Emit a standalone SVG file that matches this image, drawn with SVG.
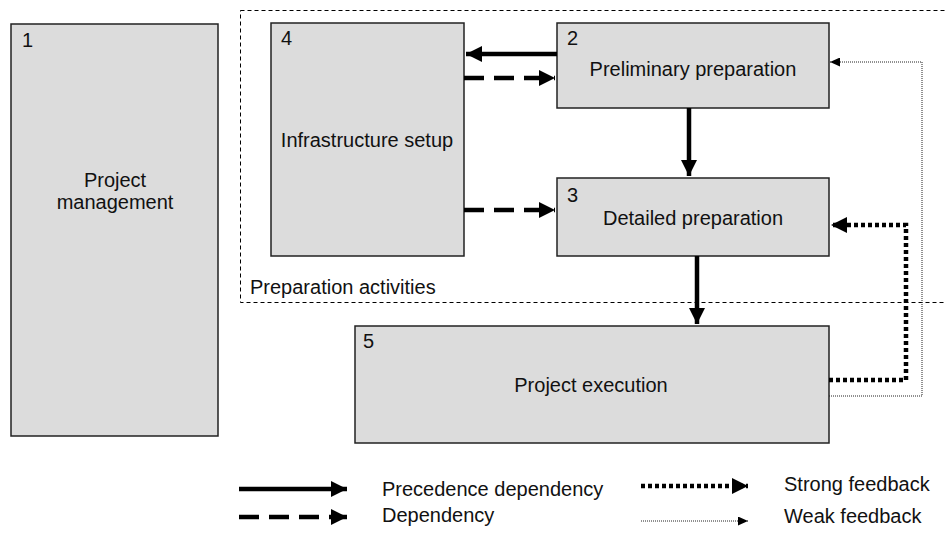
<svg xmlns="http://www.w3.org/2000/svg" width="945" height="533" viewBox="0 0 945 533">
  <style>
    .box { fill: #dcdcdc; stroke: #222; stroke-width: 1.5; }
    .t { font-family: "Liberation Sans", Arial, sans-serif; font-size: 20px; fill: #111; }
    .c { text-anchor: middle; }
    .solid { fill: none; stroke: #000; stroke-width: 4.5; }
    .dash { fill: none; stroke: #000; stroke-width: 4.5; stroke-dasharray: 20 10; }
    .strong { fill: none; stroke: #000; stroke-width: 4.5; stroke-dasharray: 4 3; }
    .weak { fill: none; stroke: #222; stroke-width: 1; stroke-dasharray: 1 1; }
    .group { fill: none; stroke: #000; stroke-width: 1; stroke-dasharray: 4 3; }
  </style>
  <defs>
    <marker id="headBig" viewBox="0 0 16 16" refX="16" refY="8" markerWidth="16" markerHeight="16" markerUnits="userSpaceOnUse" orient="auto">
      <path d="M0,0 L16,8 L0,16 Z" fill="#000"/>
    </marker>
    <marker id="headSmall" viewBox="0 0 10 9" refX="10" refY="4.5" markerWidth="10" markerHeight="9" markerUnits="userSpaceOnUse" orient="auto">
      <path d="M0,0 L10,4.5 L0,9 Z" fill="#000"/>
    </marker>
  </defs>

  <!-- preparation activities boundary -->
  <g id="preparation-activities">
    <rect class="group" x="240.5" y="10.5" width="720" height="292"/>
    <text class="t" x="250" y="294">Preparation activities</text>
  </g>

  <g id="node1">
    <rect class="box" x="11" y="24" width="207" height="412"/>
    <text class="t" x="22" y="47">1</text>
    <text class="t c" x="115" y="187">Project</text>
    <text class="t c" x="115" y="209">management</text>
  </g>

  <g id="node4">
    <rect class="box" x="271" y="23" width="193" height="233"/>
    <text class="t" x="281" y="45">4</text>
    <text class="t c" x="367" y="147">Infrastructure setup</text>
  </g>

  <g id="node2">
    <rect class="box" x="557" y="23" width="272" height="85"/>
    <text class="t" x="567" y="45">2</text>
    <text class="t c" x="693" y="76">Preliminary preparation</text>
  </g>

  <g id="node3">
    <rect class="box" x="557" y="178" width="272" height="78"/>
    <text class="t" x="567" y="202">3</text>
    <text class="t c" x="693" y="225">Detailed preparation</text>
  </g>

  <g id="node5">
    <rect class="box" x="355" y="326" width="474" height="117"/>
    <text class="t" x="363" y="348">5</text>
    <text class="t c" x="591" y="392">Project execution</text>
  </g>

  <!-- connectors -->
  <g id="connectors">
    <path class="solid" d="M557,54 H466" marker-end="url(#headBig)"/>
    <path class="dash" d="M464,78 H555" marker-end="url(#headBig)"/>
    <path class="dash" d="M464,210 H555" marker-end="url(#headBig)"/>
    <path class="solid" d="M689,108 V176" marker-end="url(#headBig)"/>
    <path class="solid" d="M697,256 V324" marker-end="url(#headBig)"/>
    <path class="strong" d="M829,380 H906 V225 H831" marker-end="url(#headBig)"/>
    <path class="weak" d="M829,396 H922 V62 H830" marker-end="url(#headSmall)"/>
  </g>

  <!-- legend -->
  <g id="legend">
    <path class="solid" d="M239,489 H347" marker-end="url(#headBig)"/>
    <text class="t" x="382" y="496">Precedence dependency</text>
    <path class="dash" d="M239,517 H347" marker-end="url(#headBig)"/>
    <text class="t" x="382" y="522">Dependency</text>
    <path class="strong" d="M641,486 H748" marker-end="url(#headBig)"/>
    <text class="t" x="784" y="491">Strong feedback</text>
    <path class="weak" d="M641,521 H748" marker-end="url(#headSmall)"/>
    <text class="t" x="784" y="523">Weak feedback</text>
  </g>
</svg>
